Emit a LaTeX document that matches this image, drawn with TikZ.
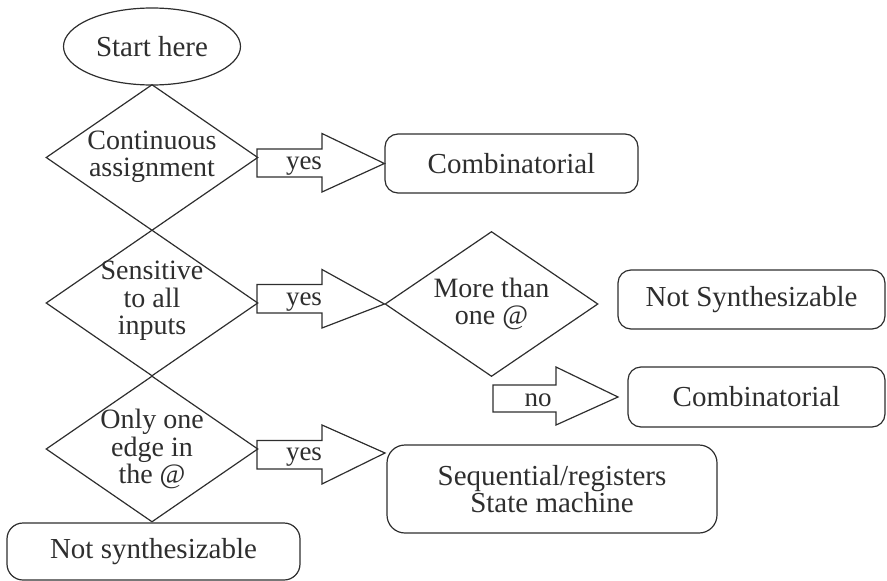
\documentclass[tikz,border=0pt]{standalone}
\usepackage{fontspec}
\setmainfont{Liberation Serif}
\usetikzlibrary{shapes.geometric}
\definecolor{ink}{HTML}{2E2E2E}
\begin{document}
\begin{tikzpicture}[x=1pt,y=-1pt,
  every node/.style={text=ink, font=\fontsize{29}{27}\selectfont, align=center},
  shp/.style={draw=ink, line width=1.2pt},
  dia/.style={shp, diamond, inner sep=0pt, minimum width=212pt, minimum height=146pt},
  rbox/.style={shp, rectangle, rounded corners=13pt, inner sep=0pt},
  barrow/.style={draw=ink, line width=1.2pt, line join=miter},
  dtext/.style={font=\fontsize{28}{27.5}\selectfont, inner sep=0pt},
  lbl/.style={font=\fontsize{27}{26}\selectfont, inner sep=0pt}]
\useasboundingbox (0,0) rectangle (887,581);

\node[shp, ellipse, minimum width=177pt, minimum height=77pt, inner sep=0pt] (start) at (152,46.5) {Start here};
\node[dia] (d1) at (152,157.5) {};
\node[dia] (d2) at (152,303) {};
\node[dia] (d3) at (152,449) {};
\node[dia, minimum width=213pt, minimum height=145pt] (d4) at (491.5,304) {};
\node[dtext] (d1t) at ([yshift=1pt]d1.center) {Continuous\\assignment};
\node[dtext] (d2t) at ([yshift=2pt]d2.center) {Sensitive\\to all\\inputs};
\node[dtext] (d3t) at (d3.center) {Only one\\edge in\\the @};
\node[dtext] (d4t) at (d4.center) {More than\\one @};

\node[rbox, minimum width=253pt, minimum height=59pt] (comb1) at (511.5,163.5) {Combinatorial};
\node[rbox, minimum width=267pt, minimum height=59pt] (nsyn1) at (751.5,299.5) {Not Synthesizable};
\node[rbox, minimum width=257pt, minimum height=60pt] (comb2) at (756.5,397) {Combinatorial};
\node[rbox, rounded corners=18pt, minimum width=330pt, minimum height=88pt] (seq) at (552,489) {Sequential/registers\\State machine};
\node[rbox, rounded corners=16pt, minimum width=293pt, minimum height=57pt] (nsyn2) at (153.5,551.5) {Not synthesizable};

% block arrows
\coordinate (a1s) at (257,163);
\coordinate (a2s) at (257,299);
\coordinate (a3s) at (257,454);
\coordinate (a4s) at (493,397);
\coordinate (a3t) at (385,453);
\coordinate (a4t) at (618,397);
\draw[barrow] (a1s) ++(0,-14) -- ++(65,0) -- ++(0,-15.5) -- (comb1.west) -- (322,192) -- (322,177) -- (257,177) -- cycle;
\draw[barrow] (a2s) ++(0,-14.5) -- ++(65,0) -- ++(0,-15) -- (d4.west) -- (322,328) -- (322,313) -- (257,313) -- cycle;
\draw[barrow] (a3s) ++(0,-13.5) -- ++(65,0) -- ++(0,-15.5) -- (a3t) -- (322,484) -- (322,469) -- (257,469) -- cycle;
\draw[barrow] (a4s) ++(0,-12) -- ++(63,0) -- ++(0,-18) -- (a4t) -- (556,425) -- (556,412) -- (493,412) -- cycle;

\node[lbl] (y1) at (304,166) {yes};
\node[lbl] (y2) at (304,302) {yes};
\node[lbl] (y3) at (304,457) {yes};
\node[lbl] (n1) at (538,400) {no};
\end{tikzpicture}
\end{document}
